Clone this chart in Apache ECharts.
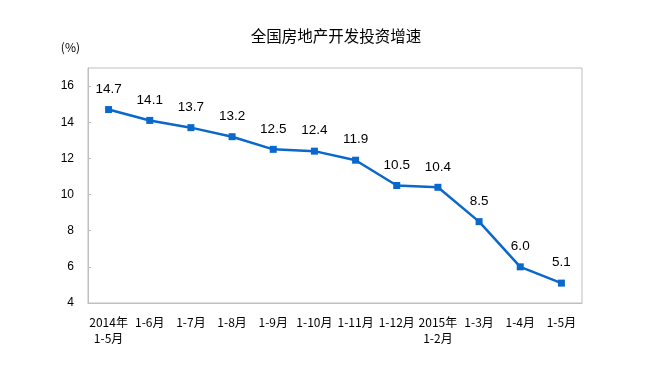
<!DOCTYPE html>
<html><head><meta charset="utf-8">
<script src="https://cdn.jsdelivr.net/npm/echarts@6/dist/echarts.min.js"></script>
<style>html,body{margin:0;padding:0;background:#fff}#c{width:672px;height:378px}</style>
</head><body><div id="c"></div>
<script>
const categories = ['2014年\n1-5月','1-6月','1-7月','1-8月','1-9月','1-10月','1-11月','1-12月','2015年\n1-2月','1-3月','1-4月','1-5月'];
const growth = [14.7,14.1,13.7,13.2,12.5,12.4,11.9,10.5,10.4,8.5,6.0,5.1];
const yTicks = [4,6,8,10,12,14,16];
const chart = echarts.init(document.getElementById('c'));
chart.setOption({
  animation:false,
  backgroundColor:'#fff',
  title:{text:'全国房地产开发投资增速',left:'center',top:23,textStyle:{fontFamily:'Noto Sans CJK SC',fontSize:15.5,fontWeight:'normal',color:'#000'}},
  grid:{left:88,right:90,top:68,bottom:75,show:true,borderColor:'#bfbfbf',borderWidth:1},
  xAxis:{type:'category',data:categories,boundaryGap:true,
    axisLine:{lineStyle:{color:'#bfbfbf',width:1}},
    axisTick:{inside:true,length:3,lineStyle:{color:'#bfbfbf'}},
    axisLabel:{color:'#000',fontFamily:'Noto Sans CJK SC',fontSize:12,margin:11,lineHeight:16,interval:0}},
  yAxis:{type:'value',min:4,max:17,interval:2,name:'(%)',nameLocation:'end',nameGap:15,
    nameTextStyle:{color:'#000',fontFamily:'Noto Sans CJK SC',fontSize:12,align:'right',padding:[0,8,0,0]},
    axisLine:{show:true,lineStyle:{color:'#bfbfbf',width:1}},
    axisTick:{show:true,inside:true,length:3,lineStyle:{color:'#bfbfbf'}},
    splitLine:{show:false},
    axisLabel:{color:'#000',fontFamily:'Liberation Sans',fontSize:12,margin:14,showMaxLabel:false,
      formatter:v=>yTicks.includes(v)?String(v):''}},
  series:[{type:'line',data:growth,symbol:'rect',symbolSize:7,
    lineStyle:{color:'#0a68cc',width:2.5},itemStyle:{color:'#0a68cc'},
    label:{show:true,position:'top',distance:10,color:'#000',fontFamily:'Liberation Sans',fontSize:13.5,
      formatter:p=>p.value.toFixed(1)}}]
});
</script></body></html>
